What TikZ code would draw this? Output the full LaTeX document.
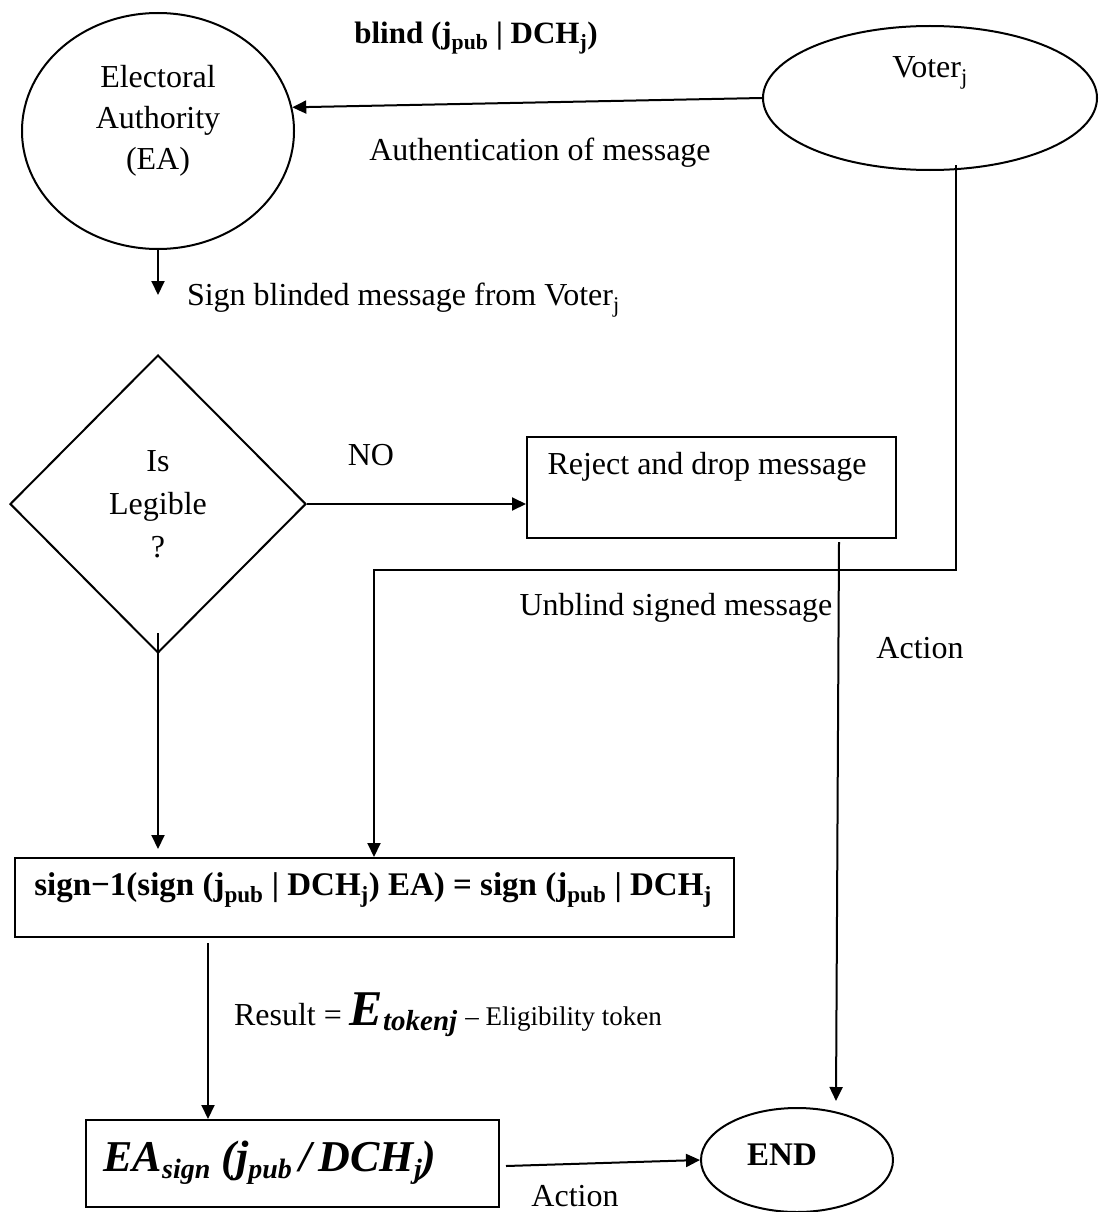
\documentclass[tikz,border=0pt]{standalone}
\usepackage{fontspec}
\setmainfont{Liberation Serif}
\usetikzlibrary{shapes.geometric,arrows.meta,calc}

\begin{document}
\begin{tikzpicture}[x=1pt,y=-1pt,line width=2pt,
  shp/.style={draw,line width=2pt,inner sep=0pt},
  arr/.style={-{Triangle[length=14pt,width=13pt]},line width=2pt},
  txt/.style={inner sep=0pt,align=center,font=\fontsize{32}{41}\selectfont},
  btxt/.style={inner sep=0pt,align=center,font=\fontsize{33}{38}\selectfont\bfseries}]
\useasboundingbox (0,0) rectangle (1101,1212);

% main shapes
\node[shp,ellipse,minimum width=272pt,minimum height=236pt] (ea) at (158,131) {};
\node[txt] (eatext) at (158,121) {Electoral\\Authority\\(EA)};

\node[shp,ellipse,minimum width=334pt,minimum height=144pt] (voter) at (930,98) {};
\node[txt] (votertext) at (930,73) {Voter\textsubscript{j}};

\node[shp,diamond,minimum width=296pt,minimum height=298pt] (legible) at (158,504) {};
\node[txt,font=\fontsize{32}{43}\selectfont] (legtext) at (158,504) {Is\\Legible\\?};

\node[shp,rectangle,minimum width=369pt,minimum height=101pt] (reject) at (711.5,487.5) {};
\node[txt] (rejtext) at (707,467) {Reject and drop message};

\node[shp,rectangle,minimum width=719pt,minimum height=79pt] (signbox) at (374.5,897.5) {};
\node[btxt] (signtext) at (373,890) {sign−1(sign (j\textsubscript{pub} | DCH\textsubscript{j}) EA) = sign (j\textsubscript{pub} | DCH\textsubscript{j}};

\node[shp,rectangle,minimum width=413pt,minimum height=87pt] (easign) at (292.5,1163.5) {};
\node[inner sep=0pt,font=\fontsize{44}{44}\selectfont\bfseries\itshape] (easigntext) at (270,1163)
  {EA\raisebox{-7pt}{\fontsize{28}{28}\selectfont sign} (j\raisebox{-7pt}{\fontsize{28}{28}\selectfont pub}\,/\,DCH\raisebox{-7pt}{\fontsize{28}{28}\selectfont j})};

\node[shp,ellipse,minimum width=192pt,minimum height=104pt] (end) at (797,1160) {};
\node[btxt] (endtext) at (782,1155) {END};

% connector ends
\coordinate (signtip) at (158,295);
\coordinate (legtip) at (158,849);
\coordinate (vstart) at (956,165);
\coordinate (vbend) at (374,570);
\coordinate (rstart) at (839,542);
\coordinate (endtip) at (836,1101);
\coordinate (sbstart) at (208,943);
\coordinate (eastart) at (506,1166);

% connectors
\draw[arr] (voter.west) -- (ea.10.6);
\draw[arr] (ea.south) -- (signtip);
\draw[arr] (legible.east) -- (legible.east -| reject.west);
\draw[arr] ($(legible.south)+(0,-21)$) -- (legtip);
\draw[arr] (vstart) |- (vbend) -- (vbend |- signbox.north);
\draw[arr] (rstart) -- (endtip);
\draw[arr] (sbstart) -- (sbstart |- easign.north);
\draw[arr] (eastart) -- (end.west);

% labels
\node[btxt,font=\fontsize{31}{36}\selectfont\bfseries] (lblblind) at (476,38) {blind (j\textsubscript{pub} | DCH\textsubscript{j})};
\node[txt] (lblauth) at (540,153) {Authentication of message};
\node[txt,anchor=west] (lblsign) at (186,300) {Sign blinded message from Voter\textsubscript{j}};
\node[txt] (lblno) at (371,455) {NO};
\node[txt] (lblunblind) at (676,608) {Unblind signed message};
\node[txt] (lblaction) at (920,648) {Action};
\node[txt,anchor=west] (lblresult) at (233,1015)
  {Result = {\fontsize{50}{50}\selectfont\bfseries\itshape E}\raisebox{-5pt}{\fontsize{29}{29}\selectfont\bfseries\itshape tokenj} {\fontsize{27}{27}\selectfont – Eligibility token}};
\node[txt] (lblaction2) at (575,1196) {Action};
\end{tikzpicture}
\end{document}
